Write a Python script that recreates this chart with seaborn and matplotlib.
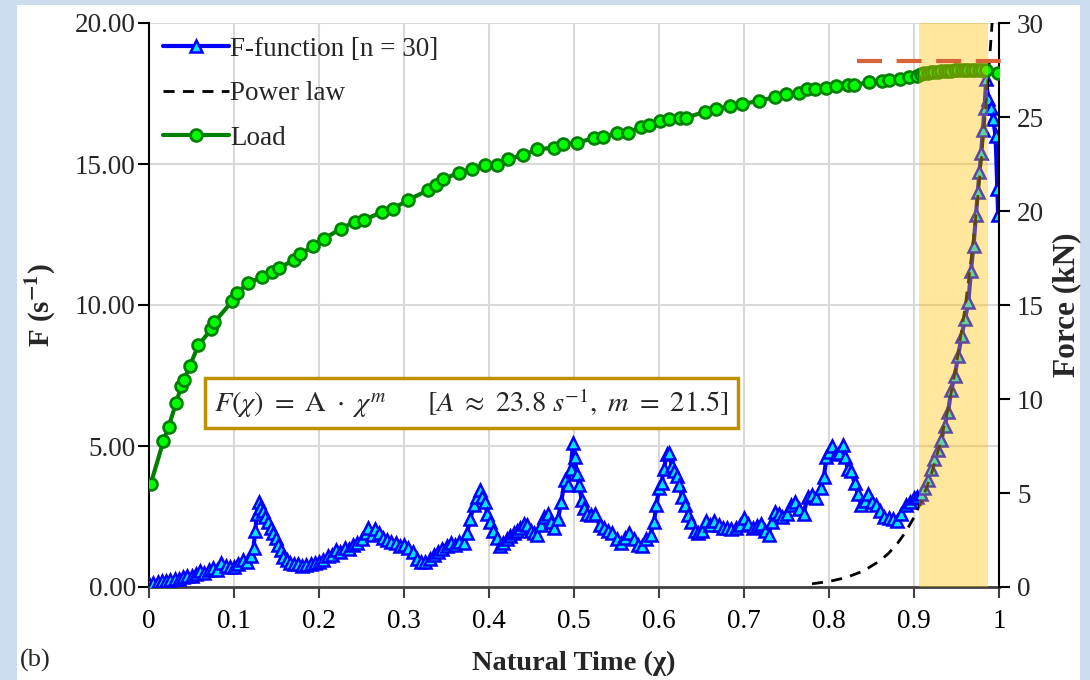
import numpy as np
import pandas as pd
import matplotlib
matplotlib.use("Agg")
import matplotlib.pyplot as plt
import seaborn as sns
from matplotlib.patches import Rectangle
from matplotlib.lines import Line2D

# ---------------- data ----------------
f_chi = [0.000, 0.005, 0.010, 0.015, 0.020, 0.025, 0.030, 0.035, 0.040, 0.045,
         0.050, 0.055, 0.060, 0.065, 0.070, 0.075, 0.080, 0.085, 0.090, 0.095,
         0.100, 0.105, 0.110, 0.115, 0.120, 0.123, 0.125, 0.127, 0.129, 0.131,
         0.134, 0.137, 0.140, 0.143, 0.146, 0.149, 0.152, 0.155, 0.158, 0.162,
         0.166, 0.170, 0.175, 0.180, 0.185, 0.190, 0.195, 0.200, 0.205, 0.210,
         0.215, 0.220, 0.225, 0.230, 0.235, 0.240, 0.245, 0.250, 0.255, 0.258,
         0.262, 0.266, 0.270, 0.275, 0.280, 0.285, 0.290, 0.295, 0.300, 0.305,
         0.310, 0.315, 0.320, 0.325, 0.330, 0.335, 0.340, 0.345, 0.350, 0.355,
         0.360, 0.365, 0.370, 0.374, 0.378, 0.382, 0.386, 0.389, 0.392, 0.395,
         0.398, 0.401, 0.405, 0.409, 0.413, 0.417, 0.421, 0.425, 0.429, 0.433,
         0.437, 0.441, 0.445, 0.449, 0.453, 0.457, 0.461, 0.465, 0.469, 0.473,
         0.477, 0.481, 0.485, 0.489, 0.493, 0.496, 0.499, 0.501, 0.503, 0.506,
         0.509, 0.512, 0.515, 0.520, 0.525, 0.530, 0.535, 0.540, 0.545, 0.550,
         0.555, 0.560, 0.565, 0.570, 0.575, 0.580, 0.585, 0.590, 0.594, 0.597,
         0.600, 0.603, 0.606, 0.609, 0.612, 0.615, 0.618, 0.621, 0.624, 0.627,
         0.630, 0.634, 0.638, 0.642, 0.646, 0.650, 0.655, 0.660, 0.665, 0.670,
         0.675, 0.680, 0.685, 0.690, 0.695, 0.700, 0.705, 0.710, 0.715, 0.720,
         0.725, 0.729, 0.733, 0.737, 0.741, 0.745, 0.750, 0.755, 0.760, 0.765,
         0.770, 0.775, 0.780, 0.785, 0.790, 0.794, 0.797, 0.800, 0.804, 0.808,
         0.812, 0.816, 0.819, 0.822, 0.826, 0.830, 0.834, 0.838, 0.842, 0.846,
         0.850, 0.855, 0.860, 0.865, 0.870, 0.875, 0.880, 0.885, 0.890, 0.895,
         0.900, 0.904, 0.908, 0.912, 0.916, 0.920, 0.924, 0.928, 0.932, 0.936,
         0.940, 0.944, 0.948, 0.952, 0.956, 0.960, 0.964, 0.967, 0.970, 0.973,
         0.975, 0.977, 0.979, 0.981, 0.983, 0.985, 0.987, 0.990, 0.993, 0.996,
         0.998, 0.999]
f_value = [0.10, 0.15, 0.18, 0.22, 0.20, 0.26, 0.30, 0.28, 0.35, 0.40,
           0.38, 0.45, 0.55, 0.50, 0.62, 0.66, 0.60, 0.85, 0.75, 0.70,
           0.72, 0.80, 0.95, 0.90, 1.10, 1.40, 2.00, 2.60, 3.00, 2.80,
           2.70, 2.50, 2.30, 2.10, 1.90, 1.75, 1.50, 1.30, 1.05, 0.95,
           0.85, 0.80, 0.80, 0.75, 0.78, 0.80, 0.85, 0.90, 0.95, 1.10,
           1.15, 1.30, 1.25, 1.40, 1.35, 1.50, 1.55, 1.70, 1.90, 2.10,
           1.85, 2.05, 1.90, 1.75, 1.65, 1.60, 1.55, 1.45, 1.50, 1.40,
           1.25, 1.00, 0.90, 0.88, 1.00, 1.15, 1.25, 1.35, 1.45, 1.55,
           1.50, 1.60, 1.55, 1.90, 2.40, 2.90, 3.20, 3.45, 3.20, 3.00,
           2.60, 2.30, 2.00, 1.75, 1.45, 1.55, 1.70, 1.80, 1.90, 2.00,
           2.10, 2.25, 2.20, 2.00, 1.90, 1.85, 2.20, 2.50, 2.60, 2.30,
           2.10, 2.40, 3.00, 3.80, 3.60, 4.20, 5.10, 4.60, 4.00, 3.60,
           3.10, 2.80, 2.60, 2.55, 2.60, 2.20, 2.10, 2.00, 1.90, 1.70,
           1.55, 1.75, 1.90, 1.70, 1.50, 1.45, 1.70, 1.85, 2.30, 2.90,
           3.50, 3.70, 4.20, 4.70, 4.75, 4.30, 4.10, 3.95, 3.60, 3.20,
           2.90, 2.55, 2.30, 2.00, 1.90, 2.00, 2.35, 2.20, 2.35, 2.20,
           2.10, 2.10, 2.05, 2.10, 2.20, 2.45, 2.25, 2.10, 2.15, 2.25,
           2.00, 1.85, 2.30, 2.65, 2.60, 2.50, 2.60, 2.90, 3.00, 2.75,
           2.60, 3.20, 3.25, 3.15, 3.50, 3.90, 4.60, 4.80, 5.00, 4.70,
           4.75, 5.05, 4.60, 4.20, 4.10, 3.70, 3.30, 2.90, 3.05, 3.30,
           3.00, 2.90, 2.70, 2.50, 2.45, 2.40, 2.35, 2.60, 2.90, 3.00,
           3.15, 3.20, 3.30, 3.50, 3.80, 4.20, 4.55, 4.85, 5.20, 5.70,
           6.20, 7.00, 7.50, 8.20, 8.90, 9.50, 10.10, 11.20, 12.10, 13.20,
           14.00, 14.70, 15.40, 16.20, 17.00, 18.00, 17.30, 17.00, 16.60, 16.00,
           14.10, 13.20]

load_chi = [0.002, 0.017, 0.023, 0.032, 0.038, 0.041, 0.048, 0.058, 0.073, 0.077,
            0.098, 0.104, 0.116, 0.133, 0.145, 0.153, 0.170, 0.178, 0.193, 0.206,
            0.226, 0.242, 0.253, 0.274, 0.287, 0.305, 0.328, 0.338, 0.346, 0.365,
            0.380, 0.395, 0.409, 0.422, 0.440, 0.457, 0.476, 0.487, 0.503, 0.523,
            0.534, 0.551, 0.563, 0.579, 0.588, 0.601, 0.612, 0.625, 0.632, 0.654,
            0.667, 0.684, 0.698, 0.718, 0.737, 0.749, 0.765, 0.774, 0.783, 0.796,
            0.808, 0.822, 0.829, 0.847, 0.862, 0.871, 0.883, 0.894, 0.903, 0.908,
            0.912, 0.916, 0.920, 0.924, 0.928, 0.932, 0.936, 0.940, 0.944, 0.948,
            0.952, 0.956, 0.960, 0.964, 0.968, 0.972, 0.976, 0.980, 0.985, 0.999]
load_kn = [5.48, 7.77, 8.53, 9.80, 10.69, 11.00, 11.76, 12.85, 13.70, 14.10,
           15.20, 15.65, 16.15, 16.50, 16.74, 16.95, 17.40, 17.70, 18.14, 18.53,
           19.06, 19.43, 19.52, 19.95, 20.12, 20.59, 21.10, 21.40, 21.70, 22.04,
           22.25, 22.45, 22.43, 22.75, 22.98, 23.28, 23.37, 23.56, 23.63, 23.87,
           23.92, 24.16, 24.16, 24.48, 24.56, 24.79, 24.88, 24.96, 24.96, 25.28,
           25.41, 25.59, 25.68, 25.87, 26.05, 26.20, 26.29, 26.47, 26.47, 26.56,
           26.65, 26.69, 26.70, 26.85, 26.93, 26.97, 27.04, 27.15, 27.20, 27.30,
           27.33, 27.35, 27.38, 27.40, 27.42, 27.44, 27.45, 27.46, 27.47, 27.48,
           27.49, 27.50, 27.50, 27.50, 27.51, 27.51, 27.52, 27.52, 27.50, 27.34]

power_chi = [0.78, 0.80, 0.82, 0.84, 0.86, 0.87, 0.88, 0.89, 0.90, 0.91, 0.92,
             0.93, 0.94, 0.95, 0.96, 0.965, 0.97, 0.975, 0.98, 0.985, 0.99, 0.995]
power_f = [0.114, 0.196, 0.334, 0.561, 0.929, 1.192, 1.523, 1.943, 2.470, 3.133,
           3.963, 5.000, 6.293, 7.90, 9.90, 11.06, 12.36, 13.81, 15.41, 17.20,
           19.18, 21.37]

failure_load_kn = 28.0
failure_chi_range = [0.833, 1.019]
shade_chi = [0.906, 0.987]

x_ticks = [0, 0.1, 0.2, 0.3, 0.4, 0.5, 0.6, 0.7, 0.8, 0.9, 1]
x_ticklabels = ["0", "0.1", "0.2", "0.3", "0.4", "0.5", "0.6", "0.7", "0.8", "0.9", "1"]
y_ticks = [0, 5, 10, 15, 20]
y2_ticks = [0, 5, 10, 15, 20, 25, 30]

equation = (r"$F(\chi)\ =\ \mathrm{A}\ \cdot\ \chi^{m}\qquad"
            r"[A\ \approx\ 23.8\ s^{-1},\ m\ =\ 21.5]$")

# ---------------- style ----------------
sns.set_theme(style="white")
plt.rcParams["font.family"] = ["Liberation Serif", "DejaVu Serif"]
plt.rcParams["mathtext.fontset"] = "stix"

fig = plt.figure(figsize=(10.9, 6.8), dpi=100)
fig.patch.set_facecolor("#CCDDF0")
bg = Rectangle((17 / 1090, 0), (1080 - 17) / 1090, (680 - 5) / 680,
               transform=fig.transFigure, facecolor="white",
               edgecolor="none", zorder=-10)
fig.patches.append(bg)

ax = fig.add_axes([149 / 1090, 1 - 587 / 680, 850 / 1090, 564 / 680])
ax.set_facecolor("none")
ax2 = ax.twinx()
ax2.set_facecolor("none")

df_f = pd.DataFrame({"chi": f_chi, "F": f_value})
df_load = pd.DataFrame({"chi": load_chi, "load": load_kn})

# grid
for xv in x_ticks[1:-1]:
    ax.axvline(xv, color="#D9D9D9", lw=1.5, zorder=0)
for yv in y_ticks[1:]:
    ax.axhline(yv, color="#D9D9D9", lw=1.5, zorder=0)

sns.lineplot(data=df_f, x="chi", y="F", ax=ax, color="#0000FF", lw=3,
             marker="^", markersize=8.5, markerfacecolor="#00E5FF",
             markeredgecolor="#0000FF", markeredgewidth=1.8,
             estimator=None, sort=False, zorder=3, legend=False)
ax.plot(power_chi, power_f, color="black", lw=2, ls=(0, (4, 3)), zorder=4)

sns.lineplot(data=df_load, x="chi", y="load", ax=ax2, color="#008000", lw=3,
             marker="o", markersize=8.5, markerfacecolor="#00FF00",
             markeredgecolor="#008000", markeredgewidth=2,
             estimator=None, sort=False, zorder=3, legend=False)

ax2.axvspan(shade_chi[0], shade_chi[1], color="#FFC000", alpha=0.38, lw=0, zorder=5)
ax2.plot(failure_chi_range, [failure_load_kn, failure_load_kn], color="#D9643A",
         lw=3, ls=(0, (6, 3.5)), zorder=6, clip_on=False)

# axes limits / ticks
ax.set_xlim(0, 1)
ax.set_ylim(0, 20)
ax2.set_ylim(0, 30)
ax.set_xticks(x_ticks)
ax.set_xticklabels(x_ticklabels)
ax.set_yticks(y_ticks)
ax.set_yticklabels([f"{v:.2f}" for v in y_ticks])
ax2.set_yticks(y2_ticks)
ax2.set_yticklabels([str(v) for v in y2_ticks])

for a in (ax, ax2):
    for s in a.spines.values():
        s.set_visible(False)
ax.spines["left"].set_visible(True)
ax.spines["left"].set_color("black")
ax.spines["left"].set_linewidth(1.5)
ax.spines["bottom"].set_visible(True)
ax.spines["bottom"].set_color("#404040")
ax.spines["bottom"].set_linewidth(2)
ax2.spines["right"].set_visible(True)
ax2.spines["right"].set_color("black")
ax2.spines["right"].set_linewidth(1.5)

ax.tick_params(axis="x", direction="out", length=8, width=1.5, color="#404040",
               labelsize=19.5, pad=8, bottom=True, labelcolor="black")
ax.tick_params(axis="y", direction="out", length=8, width=1.5, color="black",
               labelsize=19.5, pad=1.5, left=True)
ax2.tick_params(axis="y", direction="out", length=8, width=1.5, color="black",
                labelsize=19.5, pad=5, right=True)

ax.set_xlabel("Natural Time (χ)", fontsize=20.5, fontweight="bold", labelpad=12)
ax.set_ylabel(r"F (s$^{\mathbf{-1}}$)", fontsize=21, fontweight="bold", labelpad=12)
ax2.set_ylabel("Force (kN)", fontsize=22.5, fontweight="bold", labelpad=6)

# equation box
ax.add_patch(Rectangle((0.066, 5.64), 0.627, 1.77, facecolor="white",
                       edgecolor="#BF9000", linewidth=2.5, zorder=7))
ax.text(0.379, 6.52, equation, fontsize=20.5, ha="center", va="center", zorder=8)

fig.text(20 / 1090, 1 - 660 / 680, "(b)", fontsize=19, ha="left", va="center")

# legend
handles = [
    Line2D([], [], color="#0000FF", lw=3, marker="^", markersize=8.5,
           markerfacecolor="#00E5FF", markeredgecolor="#0000FF", markeredgewidth=1.8),
    Line2D([], [], color="black", lw=2, ls=(0, (4, 3))),
    Line2D([], [], color="#008000", lw=3, marker="o", markersize=8.5,
           markerfacecolor="#00FF00", markeredgecolor="#008000", markeredgewidth=2),
]
labels = ["F-function [n = 30]", "Power law", "Load"]
leg = ax2.legend(handles, labels, loc="upper left", bbox_to_anchor=(0.0, 1.0),
                 frameon=False, fontsize=19.5, handlelength=2.45, handletextpad=0.05,
                 labelspacing=0.72, borderaxespad=0.3, borderpad=0.2)
leg.set_zorder(10)

fig.savefig("out.png", dpi=100, facecolor=fig.get_facecolor())
